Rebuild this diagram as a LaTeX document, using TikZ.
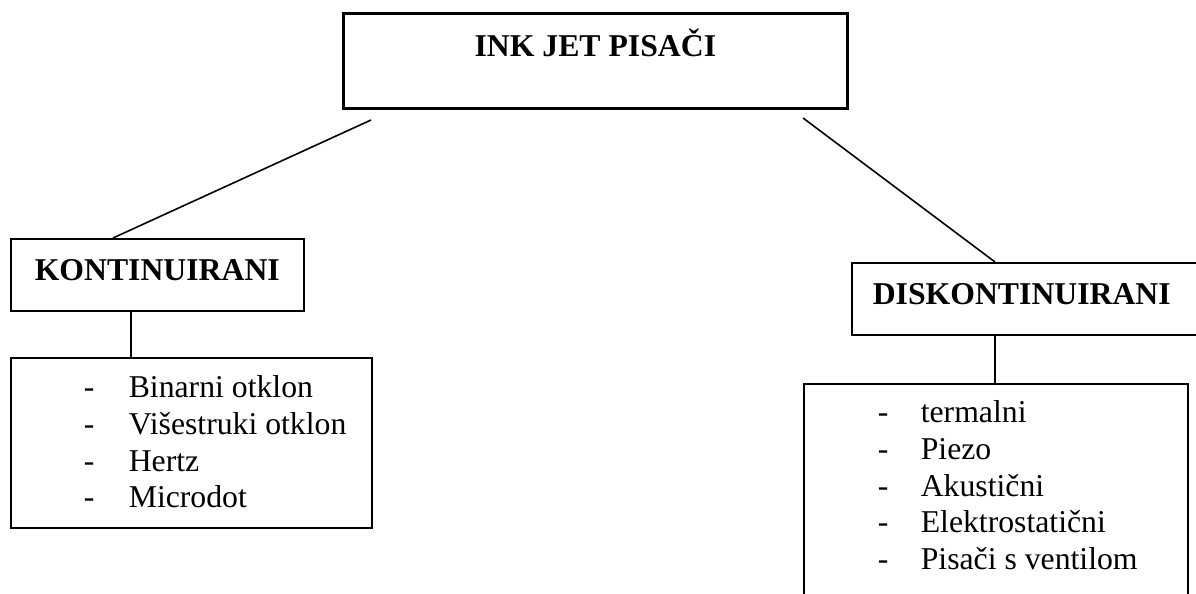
\documentclass[tikz,border=0pt]{standalone}
\usepackage{fontspec}
\setmainfont{Liberation Serif}
\begin{document}
\begin{tikzpicture}[x=0.75pt,y=-0.75pt,
  every node/.style={inner sep=0pt, font=\fontsize{23.8}{27.5}\selectfont},
  box/.style={draw, line width=1.2pt},
  topbox/.style={draw, line width=2pt},
  head/.style={font=\fontsize{23.8}{27.5}\selectfont\bfseries},
  conn/.style={line width=1.2pt}]
\useasboundingbox (0,0) rectangle (1196,593);
\clip (0,0) rectangle (1196,593);

% top box
\node (top) [topbox, head, anchor=north west, minimum width=378pt, minimum height=71.25pt,
  text height=16.5pt, text depth=23.25pt] at (342,12) {INK JET PISAČI};

% left branch
\node (kont) [box, head, anchor=north west, minimum width=219.75pt, minimum height=54pt,
  text height=16.5pt, text depth=7.5pt] at (10,238) {KONTINUIRANI};

\node (klist) [box, anchor=north west, text height=30pt, text depth=97.5pt] at (10,357)
  {\makebox[270.75pt][l]{\hspace{54.75pt}\begin{tabular}[t]{@{}p{33.75pt}@{}l@{}}
  -&Binarni otklon\\
  -&Višestruki otklon\\
  -&Hertz\\
  -&Microdot
  \end{tabular}}};

% right branch
\node (disk) [box, head, anchor=north west, minimum height=54pt,
  text height=16.5pt, text depth=7.5pt] at (851,262)
  {\makebox[300pt][l]{\hspace{15.75pt}DISKONTINUIRANI}};

\node (dlist) [box, anchor=north west, text height=29.25pt, text depth=148.5pt] at (803,383)
  {\makebox[288pt][l]{\hspace{55.5pt}\begin{tabular}[t]{@{}p{32.25pt}@{}l@{}}
  -&termalni\\
  -&Piezo\\
  -&Akustični\\
  -&Elektrostatični\\
  -&Pisači s ventilom
  \end{tabular}}};

% connectors
\coordinate (c1) at (371,120);
\coordinate (c2) at (803,118);
\draw[conn] (c1) -- ([xshift=77.25pt]kont.north west);
\draw[conn] (c2) -- ([xshift=108pt]disk.north west);
\draw[conn] ([xshift=90.75pt]kont.south west) -- ([xshift=90.75pt]klist.north west);
\draw[conn] ([xshift=108pt]disk.south west) -- ([xshift=144pt]dlist.north west);
\end{tikzpicture}
\end{document}
